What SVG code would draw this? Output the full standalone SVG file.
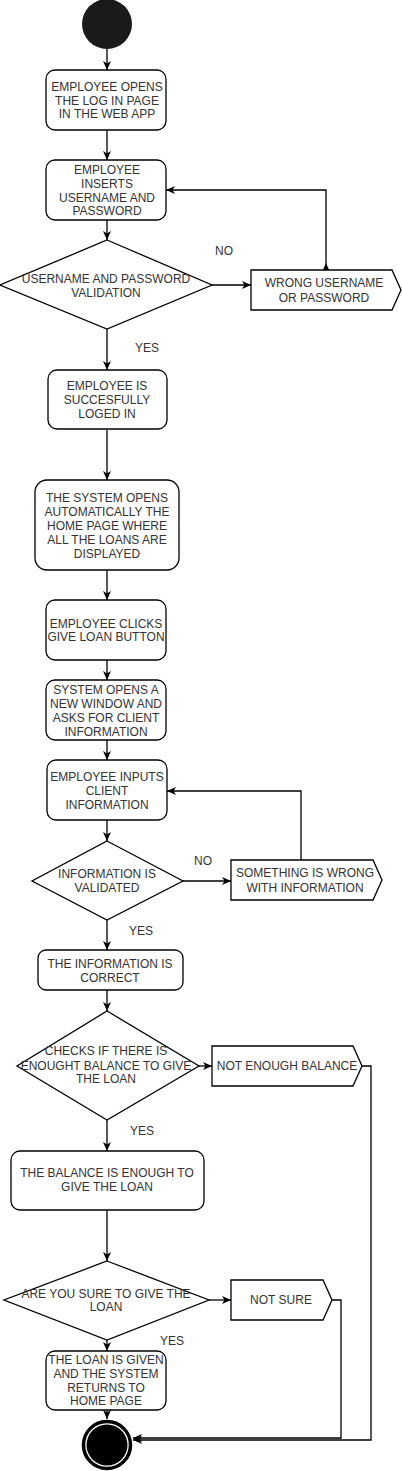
<svg xmlns="http://www.w3.org/2000/svg" width="402" height="1471" viewBox="0 0 402 1471">
<style>
.n{fill:#fff;stroke:#000;stroke-width:1.3}
.t{font-family:"Liberation Sans",Arial,sans-serif;font-size:12px;fill:#333;text-anchor:middle}
.l{font-family:"Liberation Sans",Arial,sans-serif;font-size:12px;fill:#333;text-anchor:middle}
.c{fill:none;stroke:#000;stroke-width:1.3}
</style>
<defs>
<marker id="a" markerUnits="userSpaceOnUse" markerWidth="10" markerHeight="10" refX="9" refY="5" orient="auto">
<path d="M0,1 L9,5 L0,9 L2.5,5 z" fill="#000"/>
</marker>
<marker id="s" markerUnits="userSpaceOnUse" markerWidth="10" markerHeight="10" refX="2" refY="5" orient="auto">
<path d="M0,1 L9,5 L0,9 L2.5,5 z" fill="#000"/>
</marker>
</defs>
<rect width="402" height="1471" fill="#fff"/>
<g id="connectors">
<path class="c" d="M107,49 V70" marker-end="url(#a)"/>
<path class="c" d="M107,130 V160" marker-end="url(#a)"/>
<path class="c" d="M107,220 V240" marker-end="url(#a)"/>
<path class="c" d="M212,285 H251" marker-end="url(#a)"/>
<path class="c" d="M326,270 V190 H166" marker-start="url(#s)" marker-end="url(#a)"/>
<path class="c" d="M107,329 V370" marker-end="url(#a)"/>
<path class="c" d="M107,430 V480" marker-end="url(#a)"/>
<path class="c" d="M107,570 V600" marker-end="url(#a)"/>
<path class="c" d="M107,660 V680" marker-end="url(#a)"/>
<path class="c" d="M107,740 V760" marker-end="url(#a)"/>
<path class="c" d="M107,820 V841" marker-end="url(#a)"/>
<path class="c" d="M183,881 H231" marker-end="url(#a)"/>
<path class="c" d="M301,860 V791 H167" marker-end="url(#a)"/>
<path class="c" d="M107,920 V950" marker-end="url(#a)"/>
<path class="c" d="M107,990 V1011" marker-end="url(#a)"/>
<path class="c" d="M199,1066 H212" marker-end="url(#a)"/>
<path class="c" d="M362,1066 H371 V1440 H133" marker-end="url(#a)"/>
<path class="c" d="M107,1120 V1151" marker-end="url(#a)"/>
<path class="c" d="M107,1210 V1261" marker-end="url(#a)"/>
<path class="c" d="M209,1300 H231" marker-end="url(#a)"/>
<path class="c" d="M332,1300 H341 V1438 H133" marker-end="url(#a)"/>
<path class="c" d="M107,1340 V1351" marker-end="url(#a)"/>
<path class="c" d="M107,1410 V1419" marker-end="url(#a)"/>
<text class="l" x="224" y="255">NO</text>
<text class="l" x="147" y="352">YES</text>
<text class="l" x="203" y="865">NO</text>
<text class="l" x="141" y="935">YES</text>
<text class="l" x="142" y="1135">YES</text>
<text class="l" x="172" y="1345">YES</text>
</g>
<g id="start"><circle cx="107" cy="24" r="25" fill="#1a1a1a"/></g>
<g id="n1"><rect class="n" x="46" y="70" width="120" height="60" rx="9"/>
<text class="t"><tspan x="107" y="91">EMPLOYEE OPENS</tspan><tspan x="107" y="104.5">THE LOG IN PAGE</tspan><tspan x="107" y="118">IN THE WEB APP</tspan></text></g>
<g id="n2"><rect class="n" x="46" y="160" width="120" height="60" rx="9"/>
<text class="t"><tspan x="107" y="174">EMPLOYEE</tspan><tspan x="107" y="188">INSERTS</tspan><tspan x="107" y="201.5">USERNAME AND</tspan><tspan x="107" y="215">PASSWORD</tspan></text></g>
<g id="d1"><polygon class="n" points="107,240 212,285 107,329 0,285"/>
<text class="t"><tspan x="106" y="283">USERNAME AND PASSWORD</tspan><tspan x="106" y="297">VALIDATION</tspan></text></g>
<g id="w1"><polygon class="n" points="251,270 392,270 401,290 392,310 251,310"/>
<text class="t"><tspan x="324" y="287">WRONG USERNAME</tspan><tspan x="324" y="302">OR PASSWORD</tspan></text></g>
<g id="n3"><rect class="n" x="48" y="370" width="119" height="59" rx="9"/>
<text class="t"><tspan x="107" y="390">EMPLOYEE IS</tspan><tspan x="107" y="404">SUCCESFULLY</tspan><tspan x="107" y="418">LOGED IN</tspan></text></g>
<g id="n4"><rect class="n" x="35" y="480" width="144" height="90" rx="12"/>
<text class="t"><tspan x="107" y="502">THE SYSTEM OPENS</tspan><tspan x="107" y="516">AUTOMATICALLY THE</tspan><tspan x="107" y="530">HOME PAGE WHERE</tspan><tspan x="107" y="544">ALL THE LOANS ARE</tspan><tspan x="107" y="558">DISPLAYED</tspan></text></g>
<g id="n5"><rect class="n" x="46" y="600" width="120" height="60" rx="9"/>
<text class="t"><tspan x="106" y="628">EMPLOYEE CLICKS</tspan><tspan x="106" y="641">GIVE LOAN BUTTON</tspan></text></g>
<g id="n6"><rect class="n" x="46" y="680" width="120" height="60" rx="9"/>
<text class="t"><tspan x="106" y="694">SYSTEM OPENS A</tspan><tspan x="106" y="708">NEW WINDOW AND</tspan><tspan x="106" y="721.5">ASKS FOR CLIENT</tspan><tspan x="106" y="735.5">INFORMATION</tspan></text></g>
<g id="n7"><rect class="n" x="47" y="760" width="120" height="60" rx="9"/>
<text class="t"><tspan x="107" y="781">EMPLOYEE INPUTS</tspan><tspan x="107" y="795">CLIENT</tspan><tspan x="107" y="809">INFORMATION</tspan></text></g>
<g id="d2"><polygon class="n" points="107,841 183,881 107,920 32,881"/>
<text class="t"><tspan x="107" y="878">INFORMATION IS</tspan><tspan x="107" y="892">VALIDATED</tspan></text></g>
<g id="w2"><polygon class="n" points="231,860 373,860 382,880 373,900 231,900"/>
<text class="t"><tspan x="305" y="877">SOMETHING IS WRONG</tspan><tspan x="305" y="892">WITH INFORMATION</tspan></text></g>
<g id="n8"><rect class="n" x="38" y="950" width="145" height="40" rx="8"/>
<text class="t"><tspan x="110" y="968">THE INFORMATION IS</tspan><tspan x="110" y="982">CORRECT</tspan></text></g>
<g id="d3"><polygon class="n" points="107,1011 199,1066 107,1120 17,1066"/>
<text class="t"><tspan x="106" y="1055">CHECKS IF THERE IS</tspan><tspan x="106" y="1070">ENOUGHT BALANCE TO GIVE</tspan><tspan x="106" y="1083">THE LOAN</tspan></text></g>
<g id="w3"><polygon class="n" points="212,1046 353,1046 362,1066 353,1086 212,1086"/>
<text class="t"><tspan x="287" y="1070">NOT ENOUGH BALANCE</tspan></text></g>
<g id="n9"><rect class="n" x="11" y="1151" width="193" height="59" rx="9"/>
<text class="t"><tspan x="107" y="1177">THE BALANCE IS ENOUGH TO</tspan><tspan x="107" y="1191">GIVE THE LOAN</tspan></text></g>
<g id="d4"><polygon class="n" points="107,1261 209,1300 107,1340 4,1300"/>
<text class="t"><tspan x="106" y="1298">ARE YOU SURE TO GIVE THE</tspan><tspan x="106" y="1311">LOAN</tspan></text></g>
<g id="w4"><polygon class="n" points="231,1280 323,1280 332,1300 323,1320 231,1320"/>
<text class="t"><tspan x="281" y="1304">NOT SURE</tspan></text></g>
<g id="n10"><rect class="n" x="46" y="1351" width="120" height="59" rx="9"/>
<text class="t"><tspan x="106" y="1364">THE LOAN IS GIVEN</tspan><tspan x="106" y="1378">AND THE SYSTEM</tspan><tspan x="106" y="1391.5">RETURNS TO</tspan><tspan x="106" y="1405">HOME PAGE</tspan></text></g>
<g id="end"><circle cx="107" cy="1445" r="23.5" fill="#fff" stroke="#000" stroke-width="3.5"/><circle cx="107" cy="1445" r="20.5" fill="#000"/></g>
</svg>
